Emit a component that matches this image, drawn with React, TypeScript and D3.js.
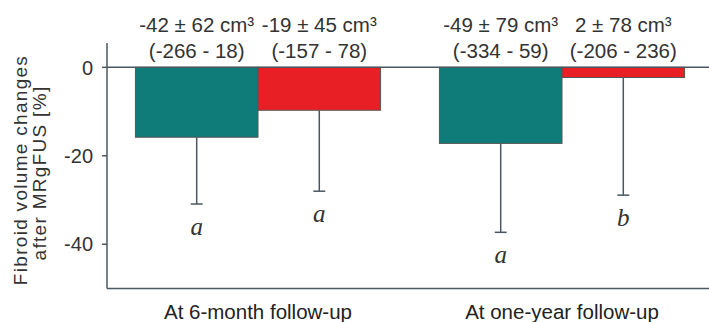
import * as d3 from "d3"

const groups = ["At 6-month follow-up", "At one-year follow-up"]
const series = ["teal", "red"]
const means = [[-15.8, -9.7], [-17.2, -2.3]]
const errLow = [[-30.9, -28.0], [-37.3, -28.9]]
const letters = [["a", "a"], ["a", "b"]]
const volText = [["-42 ± 62 cm³", "-19 ± 45 cm³"], ["-49 ± 79 cm³", "2 ± 78 cm³"]]
const rangeText = [["(-266 - 18)", "(-157 - 78)"], ["(-334 - 59)", "(-206 - 236)"]]
const yTicks = [0, -20, -40]

const colors: Record<string, string> = { teal: "#107c79", red: "#e91f26" }
const axisColor = "#4b5861"
const font = "'Liberation Sans', Arial, Helvetica, sans-serif"

export default function App() {
  const W = 709
  const H = 322
  const left = 107

  const y = d3.scaleLinear().domain([-50, 5.5]).range([288.5, 43])
  const x0 = d3.scaleBand().domain(groups).range([106, 714]).padding(0)
  const x1 = d3.scaleBand().domain(series).range([0, x0.bandwidth()]).paddingInner(0).paddingOuter(0.24)

  return (
    <div style={{ position: "absolute", left: 0, top: 0 }}>
      <svg width={W} height={H} style={{ display: "block", background: "#fff" }} fontFamily={font}>
        {/* bars */}
        {groups.map((g, gi) =>
          series.map((s, si) => {
            const bx = (x0(g) || 0) + (x1(s) || 0)
            const bw = x1.bandwidth()
            const cx = bx + bw / 2
            const v = means[gi][si]
            const lo = errLow[gi][si]
            return (
              <g key={g + s}>
                <line x1={cx} x2={cx} y1={y(v)} y2={y(lo)} stroke={axisColor} strokeWidth={1.5} />
                <line x1={cx - 6} x2={cx + 6} y1={y(lo)} y2={y(lo)} stroke={axisColor} strokeWidth={1.5} />
                <rect x={bx} y={y(0)} width={bw} height={y(v) - y(0)} fill={colors[s]} stroke="#555" strokeWidth={1} />
                <text x={cx} y={y(lo) + 31} textAnchor="middle" fontFamily="'Liberation Serif', 'DejaVu Serif', serif" fontStyle="italic" fontSize={25} fill="#333">
                  {letters[gi][si]}
                </text>
                <text x={cx} y={32} textAnchor="middle" fontSize={20.5} fill="#333">{volText[gi][si]}</text>
                <text x={cx} y={58} textAnchor="middle" fontSize={20.5} fill="#333">{rangeText[gi][si]}</text>
              </g>
            )
          })
        )}

        {/* zero line and bottom line */}
        <line x1={left} x2={W} y1={y(0)} y2={y(0)} stroke={axisColor} strokeWidth={1.5} />
        <line x1={left} x2={W} y1={y(-50)} y2={y(-50)} stroke={axisColor} strokeWidth={1.5} />
        {/* y axis */}
        <line x1={left} x2={left} y1={y(5.5)} y2={y(-50)} stroke={axisColor} strokeWidth={1.5} />
        {yTicks.map((t) => (
          <g key={t}>
            <line x1={left - 5} x2={left} y1={y(t)} y2={y(t)} stroke={axisColor} strokeWidth={1.5} />
            <text x={93} y={y(t)} dy="0.36em" textAnchor="end" fontSize={20} fill="#333">{t}</text>
          </g>
        ))}

        {/* y title */}
        <g transform={`translate(27,170) rotate(-90)`}>
          <text x={0} y={0} textAnchor="middle" fontSize={19} letterSpacing={1.3} fill="#333">Fibroid volume changes</text>
          <text x={-3} y={19} textAnchor="middle" fontSize={19} letterSpacing={1.3} fill="#333">after MRgFUS [%]</text>
        </g>

        {/* category labels */}
        {groups.map((g) => (
          <text key={g} x={(x0(g) || 0) + x0.bandwidth() / 2} y={319} textAnchor="middle" fontSize={20.5} fill="#222">{g}</text>
        ))}
      </svg>
    </div>
  )
}
